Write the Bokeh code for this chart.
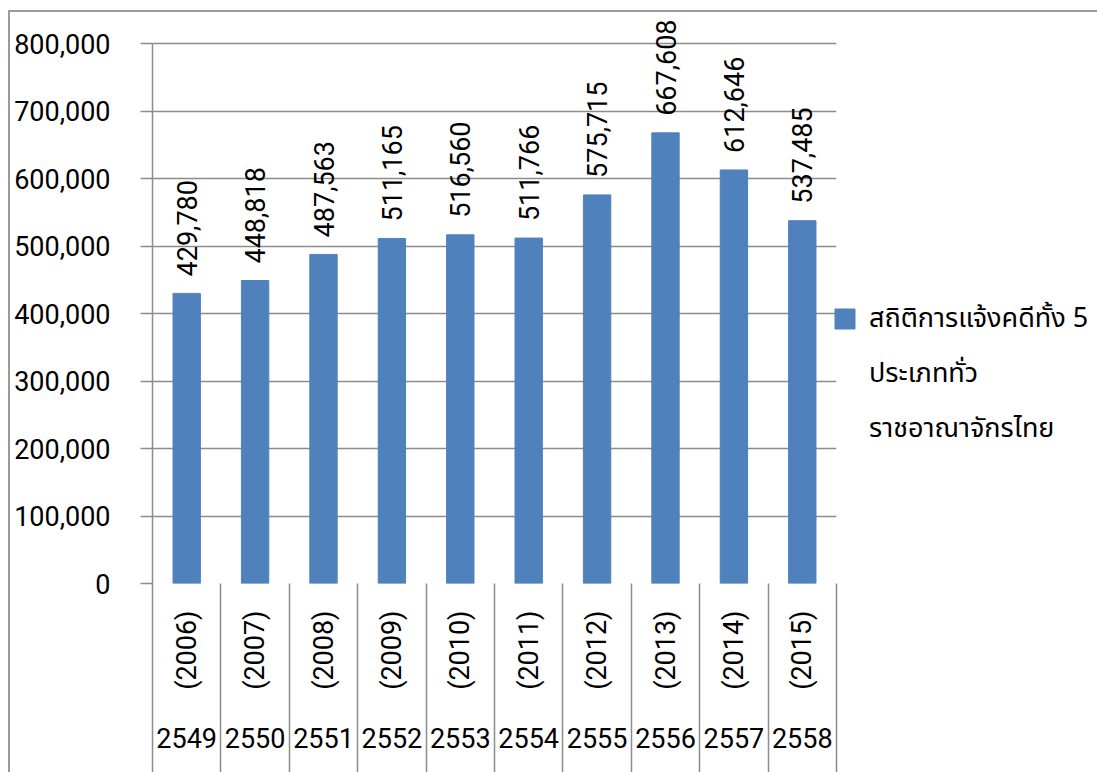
from math import pi
from bokeh.plotting import figure
from bokeh.models import (FactorRange, Range1d, CategoricalAxis, FixedTicker,
                          NumeralTickFormatter, Legend, LegendItem, ColumnDataSource)
from bokeh.core.properties import value
from bokeh.embed import file_html
from bokeh.resources import INLINE

# ---- data ----
be_years = ["2549", "2550", "2551", "2552", "2553", "2554", "2555", "2556", "2557", "2558"]
ce_years = ["(2006)", "(2007)", "(2008)", "(2009)", "(2010)", "(2011)", "(2012)", "(2013)", "(2014)", "(2015)"]
cases = [429780, 448818, 487563, 511165, 516560, 511766, 575715, 667608, 612646, 537485]
y_ticks = [0, 100000, 200000, 300000, 400000, 500000, 600000, 700000, 800000]
series_lines = ["สถิติการแจ้งคดีทั้ง 5", "ประเภททั่ว", "ราชอาณาจักรไทย"]

FONT = "Roboto"
FS = "27px"
GRID = "#8c8c8c"
BAR = "#4F81BD"

# layout (page pixels)
OX, OY = 10, 12            # canvas origin after the chart-area border
W, H = 1097 - OX, 772 - OY
FRAME_L, FRAME_R, AXIS_Y, TOP_Y = 152, 836, 583, 43
y_max = y_ticks[-1]
y_end = y_max * (AXIS_Y - OY) / (AXIS_Y - TOP_Y)   # frame reaches the canvas top

src = ColumnDataSource(dict(x=be_years, top=cases, lab=[f"{v:,}" for v in cases]))

p = figure(width=W, height=H, output_backend="svg", toolbar_location=None,
           frame_width=FRAME_R - FRAME_L, frame_height=AXIS_Y - OY,
           x_range=FactorRange(factors=be_years, factor_padding=0, range_padding=0),
           y_range=Range1d(0, y_end), x_axis_location=None,
           min_border_left=FRAME_L - OX, min_border_right=W - (FRAME_R - OX),
           min_border_top=0, min_border_bottom=H - (AXIS_Y - OY))
p.outline_line_color = None
p.background_fill_color = "white"
p.border_fill_color = "white"
p.styles = {"margin-left": "8px", "margin-top": "10px",
            "border-left": "2px solid #9a9a9a", "border-top": "2px solid #9a9a9a"}

# helper range whose factor centres fall on the category boundaries
sep_factors = ["s%d" % i for i in range(len(be_years) + 1)]
p.extra_x_ranges = {
    "ce": FactorRange(factors=ce_years, factor_padding=0, range_padding=0),
    "sep": FactorRange(factors=sep_factors, factor_padding=0, range_padding=-0.499,
                       range_padding_units="absolute"),
}

# y axis
ya = p.yaxis[0]
ya.ticker = FixedTicker(ticks=y_ticks)
ya.bounds = (0, y_max)
ya.formatter = NumeralTickFormatter(format="0,0")
ya.major_tick_out = 12
ya.major_tick_in = 0
ya.minor_tick_line_color = None
ya.major_tick_line_color = GRID
ya.major_tick_line_width = 1.5
ya.axis_line_color = GRID
ya.axis_line_width = 1.5
ya.major_label_standoff = 30
ya.major_label_text_font = FONT
ya.major_label_text_font_size = FS
ya.major_label_text_color = "black"

p.ygrid.ticker = FixedTicker(ticks=y_ticks)
p.ygrid.grid_line_color = GRID
p.ygrid.grid_line_width = 1.5
for g in p.xgrid:
    g.visible = False

# category separators: long ticks at category boundaries, drawn downward
sep = CategoricalAxis(x_range_name="sep")
sep.axis_line_color = None
sep.major_tick_out = 0
sep.major_tick_in = -(H - (AXIS_Y - OY))
sep.major_tick_line_color = GRID
sep.major_tick_line_width = 1.5
sep.major_label_standoff = 0
sep.major_label_text_font_size = "0px"
sep.major_label_text_color = None
sep.major_label_overrides = {f: "" for f in sep_factors}
p.add_layout(sep, "below")

ce_axis = CategoricalAxis(x_range_name="ce")
ce_axis.major_label_orientation = pi / 2
ce_axis.major_label_standoff = 27
ce_axis.major_tick_out = 0
ce_axis.major_tick_in = 0
ce_axis.major_tick_line_color = None
ce_axis.axis_line_color = None
ce_axis.major_label_text_font = FONT
ce_axis.major_label_text_font_size = FS
ce_axis.major_label_text_color = "black"
p.add_layout(ce_axis, "below")

be_axis = CategoricalAxis()
be_axis.major_label_standoff = 35
be_axis.major_tick_out = 0
be_axis.major_tick_in = 0
be_axis.major_tick_line_color = None
be_axis.axis_line_color = None
be_axis.major_label_text_font = FONT
be_axis.major_label_text_font_size = FS
be_axis.major_label_text_color = "black"
p.add_layout(be_axis, "below")

bars = p.vbar(x="x", top="top", width=0.4, source=src, fill_color=BAR, line_color=BAR)
# empty, invisible renderer used for the wrapped continuation lines of the legend label
blank = p.vbar(x=[], top=[], width=0.4, fill_alpha=0, line_alpha=0)

p.text(x="x", y="top", text="lab", source=src, angle=pi / 2, text_align="left",
       text_baseline="middle", y_offset=-17, text_font=value(FONT), text_font_size=FS,
       text_color="black")

items = [LegendItem(label=series_lines[0], renderers=[bars])] + \
        [LegendItem(label=t, renderers=[blank]) for t in series_lines[1:]]
legend = Legend(items=items, location=(-4, 127), padding=0, margin=0, spacing=0,
                border_line_color=None, background_fill_alpha=0,
                glyph_width=25, glyph_height=25, label_height=55, label_standoff=12,
                label_text_font="Noto Sans Thai, Noto Sans, " + FONT, label_text_font_size=FS,
                label_text_color="black")
p.add_layout(legend, "right")

open("out.html", "w").write(file_html(p, INLINE))
